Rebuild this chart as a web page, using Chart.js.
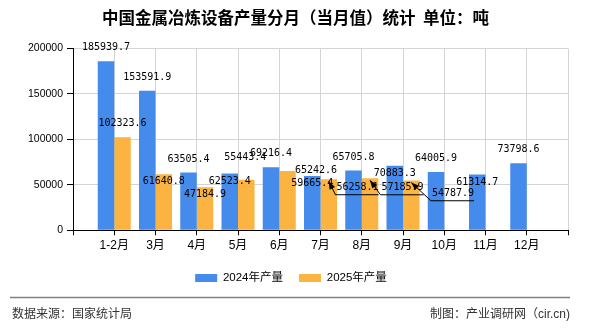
<!DOCTYPE html>
<html>
<head>
<meta charset="utf-8">
<script src="https://cdn.jsdelivr.net/npm/chart.js@4.4.0/dist/chart.umd.min.js"></script>
<style>
  html,body{margin:0;padding:0;background:#fff}
</style>
</head>
<body>
<canvas id="chart" width="590" height="330"></canvas>
<script>
/* ---------- data ---------- */
let months = ['1-2月','3月','4月','5月','6月','7月','8月','9月','10月','11月','12月']
let out2024 = [185939.7,153591.9,63505.4,62523.4,69216.4,59665.4,65705.8,70883.3,64005.9,61314.7,73798.6]
let out2025 = [102323.6,61640.8,47184.9,55443.4,65242.6,56258.1,57185.9,54787.9]
let yTicks = [0,50000,100000,150000,200000]

// empty slots at both ends so bars sit one step in from the axis ends
let labels = ['', ...months, '']
let pad = arr => [null, ...arr, ...Array(labels.length - 1 - arr.length).fill(null)]

/* where each value label goes: 'up' above bar, 'in' just under the top,
   [dx,dy] shifted, [dx,dy,1] shifted with a leader line */
let labelSpots = [
  ['up','up','up','in','up','in','up','in','up','in','up'],
  ['up','in','in',[-1,-22],[28.5,-1],[28.75,8.6,1],[32.5,9.5,1],[41.75,13.3,1]]
]

let fontCn = '"Liberation Sans","Noto Sans CJK SC",sans-serif'

/* ---------- value labels ---------- */
let barLabels = {
  id: 'barLabels',
  afterDatasetsDraw(chart) {
    let ctx = chart.ctx
    ctx.save()
    ctx.font = '10px "DejaVu Sans Mono"'
    ctx.textAlign = 'center'
    ctx.textBaseline = 'middle'
    ctx.fillStyle = '#000'
    ctx.strokeStyle = '#000'
    chart.data.datasets.forEach((ds, d) => {
      chart.getDatasetMeta(d).data.forEach((bar, i) => {
        let v = ds.data[i]
        if (v == null) return
        let txt = v.toFixed(1)
        let spot = labelSpots[d][i - 1] || 'up'
        let x = bar.x, y = bar.y
        if (spot === 'up') { ctx.fillText(txt, x, y - 13.5); return }
        if (spot === 'in') { ctx.fillText(txt, x, y + 7.5); return }
        let lx = x + spot[0], ly = y + spot[1]
        ctx.fillText(txt, lx, ly)
        if (spot[2]) {
          let w = ctx.measureText(txt).width
          let tipX = x, tipY = y + 2
          let ex = lx - w / 2 - 1, ey = ly + 7
          ctx.lineWidth = 1
          ctx.beginPath()
          ctx.moveTo(tipX, tipY)
          ctx.lineTo(ex, ey)
          ctx.lineTo(lx + w / 2, ey)
          ctx.stroke()
          // arrow head
          let a = Math.atan2(tipY - ey, tipX - ex)
          ctx.beginPath()
          ctx.moveTo(tipX, tipY)
          ctx.lineTo(tipX - 8 * Math.cos(a) + 3 * Math.sin(a), tipY - 8 * Math.sin(a) - 3 * Math.cos(a))
          ctx.lineTo(tipX - 8 * Math.cos(a) - 3 * Math.sin(a), tipY - 8 * Math.sin(a) + 3 * Math.cos(a))
          ctx.closePath()
          ctx.fill()
        }
      })
    })
    ctx.restore()
  }
}

/* ---------- title, rule + source lines ---------- */
let frame = {
  id: 'frame',
  afterDraw(chart) {
    let ctx = chart.ctx
    ctx.save()
    ctx.fillStyle = '#000'
    ctx.font = 'bold 16.5px "Noto Sans CJK SC",sans-serif'
    ctx.textAlign = 'center'
    ctx.textBaseline = 'middle'
    ctx.fillText('中国金属冶炼设备产量分月（当月值）统计  单位：吨', 295.5, 17.5)

    ctx.strokeStyle = '#808080'
    ctx.lineWidth = 1.5
    ctx.beginPath()
    ctx.moveTo(10, 297.5)
    ctx.lineTo(570, 297.5)
    ctx.stroke()
    ctx.fillStyle = '#333'
    ctx.font = '12px ' + fontCn
    ctx.textAlign = 'left'
    ctx.fillText('数据来源：国家统计局', 12, 315)
    ctx.textAlign = 'right'
    ctx.fillText('制图：产业调研网（cir.cn)', 570, 315)
    ctx.restore()
  }
}

new Chart(document.getElementById('chart'), {
  type: 'bar',
  data: {
    labels: labels,
    datasets: [{
      label: '2024年产量',
      data: pad(out2024),
      backgroundColor: '#448bec',
      borderWidth: 0
    }, {
      label: '2025年产量',
      data: pad(out2025),
      backgroundColor: '#fbb341',
      borderWidth: 0
    }]
  },
  options: {
    responsive: false,
    animation: false,
    layout: { padding: { left: 14, right: 22, top: 48.5, bottom: 36.25 } },
    datasets: { bar: { categoryPercentage: 0.8, barPercentage: 1 } },
    plugins: {
      title: { display: false },
      legend: {
        position: 'bottom',
        labels: {
          boxWidth: 22, boxHeight: 8, padding: 16, color: '#000',
          font: { size: 11.5, family: fontCn }
        }
      },
      tooltip: { enabled: false }
    },
    scales: {
      x: {
        offset: false,
        grid: { offset: false, color: '#d4d4d4', tickColor: '#000', tickLength: 5 },
        border: { color: '#000', width: 1 },
        ticks: { color: '#000', font: { size: 12, family: fontCn }, padding: 3, autoSkip: false, maxRotation: 0 },
        afterFit(scale) { scale.height = 26 }
      },
      y: {
        min: 0, max: 200000,
        afterBuildTicks(scale) { scale.ticks = yTicks.map(v => ({ value: v })) },
        grid: { color: '#d4d4d4', tickColor: '#000', tickLength: 6 },
        border: { color: '#000', width: 1 },
        ticks: { color: '#000', font: { size: 10.5, family: '"Liberation Sans",sans-serif' }, padding: 4, callback: v => v },
        afterFit(scale) { scale.width = 59 }
      }
    }
  },
  plugins: [barLabels, frame]
})
</script>
</body>
</html>
